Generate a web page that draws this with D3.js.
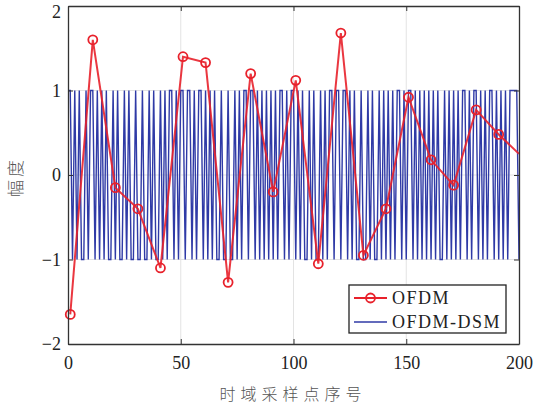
<!DOCTYPE html>
<html><head><meta charset="utf-8">
<script src="https://cdn.jsdelivr.net/npm/d3@7"></script>
<style>body{margin:0;background:#fff;}</style>
</head><body>
<svg id="c" width="533" height="408"></svg>
<script>
const ofdmX = [1,11,21,31,41,51,61,71,81,91,101,111,121,131,141,151,161,171,181,191,200];
const ofdmY = [-1.65,1.6,-0.15,-0.4,-1.1,1.4,1.33,-1.27,1.2,-0.2,1.12,-1.05,1.68,-0.95,-0.4,0.92,0.18,-0.12,0.77,0.48,0.25];
const ofdmMarkers = [1,11,21,31,41,51,61,71,81,91,101,111,121,131,141,151,161,171,181,191];
const dsmY = [
 1,1,-1,1,-1,1,-1,-1,1,-1,
 1,1,-1,1,-1,1,-1,1,-1,-1,
 1,-1,1,-1,-1,1,-1,1,-1,-1,
 1,-1,-1,1,-1,-1,1,-1,1,-1,
 -1,1,-1,1,-1,1,1,-1,1,-1,
 1,1,-1,1,1,-1,1,-1,1,1,
 -1,1,-1,1,-1,1,-1,-1,1,-1,
 -1,1,-1,-1,1,-1,1,-1,1,1,
 -1,1,1,-1,1,-1,1,-1,1,-1,
 1,-1,1,-1,1,1,-1,1,-1,1,
 1,-1,1,-1,1,-1,-1,1,-1,1,
 -1,-1,1,-1,1,-1,1,1,-1,1,
 1,-1,1,1,-1,1,-1,1,-1,-1,
 1,-1,-1,1,-1,1,-1,-1,1,-1,
 1,-1,1,-1,1,-1,1,1,-1,1,
 -1,1,1,-1,1,-1,1,-1,1,-1,
 1,-1,1,-1,1,-1,-1,1,-1,1,
 -1,1,-1,1,-1,1,1,-1,1,-1,
 1,1,-1,1,-1,1,-1,1,1,-1,
 1,-1,1,-1,1,-1,1,1,1,1,
 -1];
const xTicks = [0,50,100,150,200];
const yTicks = [-2,-1,0,1,2];
const seriesNames = ["OFDM","OFDM-DSM"];
const xLabel = "时域采样点序号";
const yLabel = "幅度";

const L=68,R=519,T=6,B=344;
const svg=d3.select("#c");
const x=d3.scaleLinear().domain([0,200]).range([L,R]);
const y=d3.scaleLinear().domain([-2,2]).range([B,T]);
const red="#e8212b", blue="#2f3aa6";

// grid
svg.append("g").selectAll("line").data(xTicks.slice(1,-1)).join("line")
 .attr("x1",d=>x(d)).attr("x2",d=>x(d)).attr("y1",T).attr("y2",B)
 .attr("stroke","#e3e3e3").attr("stroke-width",1);
svg.append("g").selectAll("line").data(yTicks.slice(1,-1)).join("line")
 .attr("y1",d=>y(d)).attr("y2",d=>y(d)).attr("x1",L).attr("x2",R)
 .attr("stroke","#e3e3e3").attr("stroke-width",1);

// DSM
const dsmData=dsmY.map((v,i)=>[i,v]);
svg.append("path").datum(dsmData)
 .attr("d",d3.line().x(d=>x(d[0])).y(d=>y(d[1])))
 .attr("fill","none").attr("stroke",blue).attr("stroke-width",1.4);

// OFDM
const ofdmData=ofdmX.map((v,i)=>[v,ofdmY[i]]);
svg.append("path").datum(ofdmData)
 .attr("d",d3.line().x(d=>x(d[0])).y(d=>y(d[1])))
 .attr("fill","none").attr("stroke",red).attr("stroke-width",2).attr("stroke-opacity",0.9);
svg.append("g").selectAll("circle").data(ofdmData.filter(d=>ofdmMarkers.includes(d[0]))).join("circle")
 .attr("cx",d=>x(d[0])).attr("cy",d=>y(d[1])).attr("r",4.5)
 .attr("fill","none").attr("stroke",red).attr("stroke-width",1.8);

// axes
const xa=svg.append("g").attr("transform",`translate(0,${B})`)
 .call(d3.axisBottom(x).tickValues(xTicks).tickSizeInner(-5).tickSizeOuter(0).tickPadding(12).tickFormat(d3.format("d")));
const xt=svg.append("g").attr("transform",`translate(0,${T})`)
 .call(d3.axisTop(x).tickValues(xTicks).tickSizeInner(-5).tickSizeOuter(0).tickFormat(""));
const ya=svg.append("g").attr("transform",`translate(${L},0)`)
 .call(d3.axisLeft(y).tickValues(yTicks).tickSizeInner(-5).tickSizeOuter(0).tickPadding(7).tickFormat(d=>d<0?"\u2212"+Math.abs(d):d));
const yr=svg.append("g").attr("transform",`translate(${R},0)`)
 .call(d3.axisRight(y).tickValues(yTicks).tickSizeInner(-5).tickSizeOuter(0).tickFormat(""));
[xa,xt,ya,yr].forEach(g=>{
 g.selectAll("path").attr("stroke","#333").attr("stroke-width",1.3);
 g.selectAll("line").attr("stroke","#333");
 g.selectAll("text").attr("font-family","Liberation Serif").attr("font-size",18).attr("fill","#222");
});
ya.selectAll(".tick").filter(d=>d===2).select("text").attr("dy","0.62em");

// labels
svg.append("text").attr("x",293).attr("y",400).attr("text-anchor","middle")
 .attr("font-family","Noto Sans CJK SC").attr("font-weight",300).attr("font-size",16)
 .attr("letter-spacing",5).attr("fill","#555").text(xLabel);
svg.append("text").attr("transform","translate(22,177) rotate(-90)").attr("text-anchor","middle")
 .attr("font-family","Noto Sans CJK SC").attr("font-weight",300).attr("font-size",17)
 .attr("letter-spacing",3).attr("fill","#555").text(yLabel);

// legend
const lg=svg.append("g");
lg.append("rect").attr("x",349).attr("y",285).attr("width",157).attr("height",48)
 .attr("fill","#fff").attr("stroke","#222").attr("stroke-width",1.3);
const colors=[red,blue];
seriesNames.forEach((n,i)=>{
 const yy=298+i*24;
 lg.append("line").attr("x1",354).attr("x2",387).attr("y1",yy).attr("y2",yy)
  .attr("stroke",colors[i]).attr("stroke-width",i?1.4:2);
 if(i===0) lg.append("circle").attr("cx",370.5).attr("cy",yy).attr("r",4.5)
  .attr("fill","none").attr("stroke",red).attr("stroke-width",1.8);
 lg.append("text").attr("x",392).attr("y",yy+6).attr("font-family","Liberation Serif")
  .attr("font-size",18).attr("letter-spacing",1.5).attr("fill","#222").text(n);
});
</script>
</body></html>
